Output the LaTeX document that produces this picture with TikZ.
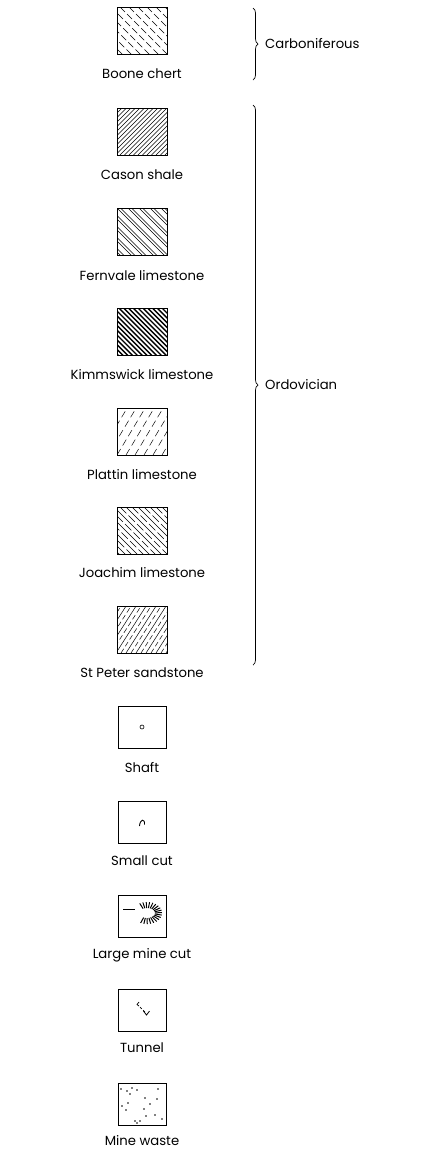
\documentclass[tikz,border=0pt]{standalone}
\usepackage{fontspec}
\setmainfont{Poppins}
\usetikzlibrary{decorations.pathreplacing}
\begin{document}
\begin{tikzpicture}[x=1pt,y=-1pt,
  ubox/.style={draw, line width=0.8pt, minimum width=50pt, minimum height=47pt, inner sep=0pt},
  lbox/.style={draw, line width=0.8pt, minimum width=48pt, minimum height=42pt, inner sep=0pt},
  lab/.style={font=\fontsize{13.2}{15}\selectfont, inner sep=0pt},
  hl/.style={line width=0.5pt},
  bracestyle/.style={decorate, decoration={brace, amplitude=5pt}, line width=0.7pt}]
\useasboundingbox (0,0) rectangle (422,1160);

% 1 Boone chert
\begin{scope}
\clip (117,7) rectangle (167,54);
\foreach \x in {66,75,...,170} \draw[hl, dash pattern=on 7pt off 3pt] (\x,7) -- ++(50,50);
\end{scope}
\node[ubox] (b1) at (142,30.5) {};
\node[lab] (l1) at (142,74) {Boone chert};

% 2 Cason shale
\begin{scope}
\clip (117,108) rectangle (167,155);
\foreach \x in {66,70.5,...,170} \draw[hl] (\x,155) -- ++(50,-50);
\end{scope}
\node[ubox] (b2) at (142,131.5) {};
\node[lab] (l2) at (142,175) {Cason shale};

% 3 Fernvale limestone
\begin{scope}
\clip (117,208) rectangle (167,255);
\foreach \x in {62,73,...,170} {\draw[hl] (\x,208) -- ++(50,50); \draw[hl] (\x+3.5,208) -- ++(50,50);}
\end{scope}
\node[ubox] (b3) at (142,231.5) {};
\node[lab] (l3) at (142,276) {Fernvale limestone};

% 4 Kimmswick limestone
\begin{scope}
\clip (117,308) rectangle (167,355);
\foreach \x in {66,70.8,...,170} \draw[line width=1.4pt] (\x,308) -- ++(50,50);
\end{scope}
\node[ubox] (b4) at (142,331.5) {};
\node[lab] (l4) at (142,375) {Kimmswick limestone};

% 5 Plattin limestone
\begin{scope}
\clip (117,408) rectangle (167,455);
\foreach \x in {90,99,...,170} \draw[hl, dash pattern=on 7pt off 4pt] (\x,455) -- ++(30,-50);
\end{scope}
\node[ubox] (b5) at (142,431.5) {};
\node[lab] (l5) at (142,475) {Plattin limestone};

% 6 Joachim limestone
\begin{scope}
\clip (117,507) rectangle (167,554);
\foreach \x [count=\i] in {66,72,...,170} {
  \ifodd\i \draw[hl] (\x,507) -- ++(50,50);
  \else \draw[hl, dash pattern=on 9pt off 3pt] (\x,507) -- ++(50,50); \fi}
\end{scope}
\node[ubox] (b6) at (142,530.5) {};
\node[lab] (l6) at (142,573) {Joachim limestone};

% 7 St Peter sandstone
\begin{scope}
\clip (117,606) rectangle (167,653);
\foreach \x [count=\i] in {86,91,...,170} {
  \ifodd\i \draw[hl] (\x,653) -- ++(32,-50);
  \else \draw[hl, dash pattern=on 5pt off 3pt] (\x,653) -- ++(32,-50); \fi}
\end{scope}
\node[ubox] (b7) at (142,629.5) {};
\node[lab] (l7) at (142,673) {St Peter sandstone};

% braces
\coordinate (ct) at (253,8);
\coordinate (cb) at (253,80);
\draw[bracestyle] (ct) -- (cb);
\node[lab, anchor=west] (carb) at (265,44) {Carboniferous};
\coordinate (ot) at (253,105);
\coordinate (ob) at (253,665);
\draw[bracestyle] (ot) -- (ob);
\node[lab, anchor=west] (ordo) at (265,385) {Ordovician};

% Shaft
\node[lbox] (s1) at (142,727) {};
\draw[line width=0.6pt] (s1.center) circle (2);
\node[lab] (sl1) at (142,768) {Shaft};

% Small cut
\node[lbox] (s2) at (142,822) {};
\draw[line width=0.9pt] (139.5,826) .. controls (140,819) and (145,818) .. (144.5,824.5);
\node[lab] (sl2) at (142,861) {Small cut};

% Large mine cut
\node[lbox] (s3) at (142,916) {};
\foreach \a in {-115,-102,...,125}
  \draw[line width=1pt] ({147+8*cos(\a)},{913-5*sin(\a)}) -- ({147+15*cos(\a)},{913-11*sin(\a)});
\draw[line width=0.7pt] (123,909) -- (135,909);
\node[lab] (sl3) at (142,955) {Large mine cut};

% Tunnel
\node[lbox] (s4) at (142,1010) {};
\draw[line width=0.7pt] (139,1002) -- (137,1004.5) -- (139,1006);
\draw[line width=0.7pt, dash pattern=on 2.5pt off 2pt] (140,1007) -- (146,1013);
\draw[line width=0.8pt] (143.5,1011) -- (146.5,1015) -- (149.5,1011);
\node[lab] (sl4) at (142,1048) {Tunnel};

% Mine waste
\node[lbox] (s5) at (142,1104) {};
\foreach \p in {(121,1089),(127,1091),(132,1088),(137,1090),(130,1094),(158,1089),
  (145,1098),(157,1099),(122,1106),(128,1103),(126,1110),(144,1109),(146,1116),(155,1115),
  (135,1121),(140,1121),(137,1123),(150,1104),(162,1119)}
  \fill \p circle (0.95);
\node[lab] (sl5) at (142,1141) {Mine waste};
\end{tikzpicture}
\end{document}
